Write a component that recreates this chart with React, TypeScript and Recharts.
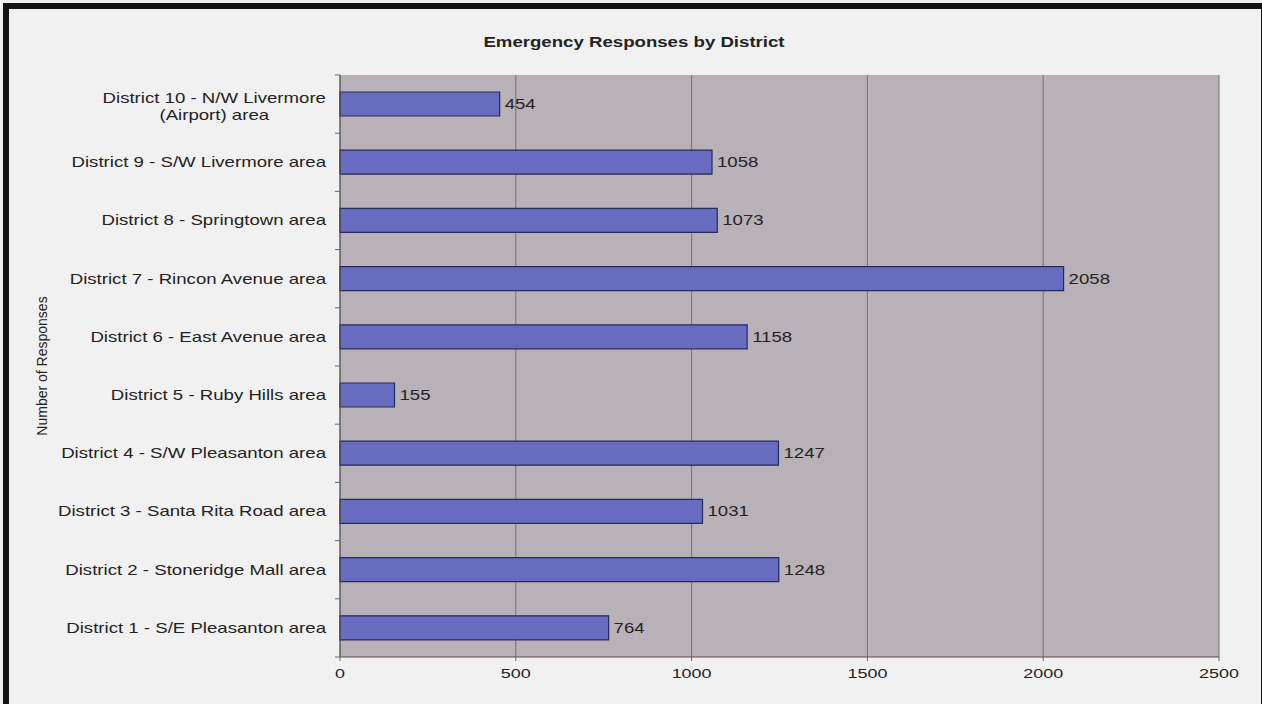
import React from "react";
import { BarChart, Bar, XAxis, YAxis, CartesianGrid, LabelList, Label } from "recharts";

// Districts listed top to bottom as they appear on the category axis
const districts = [
  "District 10 - N/W Livermore\n(Airport) area",
  "District 9 - S/W Livermore area",
  "District 8 - Springtown area",
  "District 7 - Rincon Avenue area",
  "District 6 - East Avenue area",
  "District 5 - Ruby Hills area",
  "District 4 - S/W Pleasanton area",
  "District 3 - Santa Rita Road area",
  "District 2 - Stoneridge Mall area",
  "District 1 - S/E Pleasanton area",
];
const responses = [454, 1058, 1073, 2058, 1158, 155, 1247, 1031, 1248, 764];
const countTicks = [0, 500, 1000, 1500, 2000, 2500];

const data = districts.map((name, i) => ({ name, responses: responses[i] }));

const W = 1262;
const H = 704;
const PLOT_TOP = 75;
const PLOT_BOTTOM = 657;
const PLOT_LEFT = 340;
const PLOT_RIGHT = 1219;
const BAND = (PLOT_BOTTOM - PLOT_TOP) / districts.length;
const SX = 1.33; // text is drawn wide, like the old printout
const FONT = "'Liberation Sans', Arial, sans-serif";
const INK = "#232323";

let measureCtx: CanvasRenderingContext2D | null = null;
function textWidth(s: string, size: number) {
  if (!measureCtx) measureCtx = document.createElement("canvas").getContext("2d");
  if (!measureCtx) return s.length * size * 0.55;
  measureCtx.font = `${size}px ${FONT}`;
  return measureCtx.measureText(s).width;
}

function WideText({ x, y, anchor = "start", size = 14, weight = 400, children }: any) {
  return (
    <text
      transform={`translate(${x},${y}) scale(${SX},1)`}
      textAnchor={anchor}
      dy="0.35em"
      fontSize={size}
      fontWeight={weight}
      fontFamily={FONT}
      fill={INK}
    >
      {children}
    </text>
  );
}

function DistrictTick(props: any) {
  const { y, payload, index } = props;
  const lines = String(payload.value).split("\n");
  const right = PLOT_LEFT - 14;
  const tickYs = [y - BAND / 2];
  if (index === districts.length - 1) tickYs.push(y + BAND / 2);

  let labels;
  if (lines.length === 1) {
    labels = <WideText x={right} y={y} anchor="end">{lines[0]}</WideText>;
  } else {
    const w = Math.max(...lines.map((l) => textWidth(l, 14))) * SX;
    const cx = right - w / 2;
    labels = lines.map((l, i) => (
      <WideText key={i} x={cx} y={y + 2 + (i - (lines.length - 1) / 2) * 17} anchor="middle">
        {l}
      </WideText>
    ));
  }

  return (
    <g>
      {tickYs.map((ty, i) => (
        <line key={i} x1={PLOT_LEFT - 5} x2={PLOT_LEFT} y1={ty} y2={ty} stroke="#666" />
      ))}
      {labels}
    </g>
  );
}

function CountTick(props: any) {
  const { x, payload } = props;
  return <WideText x={x} y={673} anchor="middle" size={13.5}>{payload.value}</WideText>;
}

function ValueLabel(props: any) {
  const { x, y, width, height, value } = props;
  return (
    <WideText x={Number(x) + Number(width) + 5} y={Number(y) + Number(height) / 2} size={14}>
      {value}
    </WideText>
  );
}

export default function App() {
  return (
    <div style={{ position: "relative", width: W, height: H, overflow: "hidden", background: "#f1f1f1" }}>
      <style>{`body{margin:0}`}</style>
      <div
        style={{
          position: "absolute",
          left: 3,
          top: 3,
          width: W + 2,
          height: H + 3,
          border: "6px solid #141414",
          boxSizing: "border-box",
        }}
      />
      <div
        style={{
          position: "absolute",
          left: 3,
          top: 34,
          width: W,
          textAlign: "center",
          fontFamily: FONT,
          fontWeight: 700,
          fontSize: 14,
          lineHeight: "16px",
          color: INK,
          transform: `scale(${SX},1)`,
        }}
      >
        Emergency Responses by District
      </div>
      <div style={{ position: "absolute", left: 0, top: 0 }}>
        <BarChart
          width={W}
          height={H}
          data={data}
          layout="vertical"
          margin={{ top: PLOT_TOP, right: W - PLOT_RIGHT, bottom: H - PLOT_BOTTOM - 40, left: 10 }}
        >
          <CartesianGrid horizontal={false} stroke="#747074" fill="#b9b1b8" fillOpacity={1} />
          <XAxis
            type="number"
            domain={[0, 2500]}
            ticks={countTicks}
            height={40}
            axisLine={{ stroke: "#5e4a52" }}
            tickLine={{ stroke: "#666" }}
            tickSize={4}
            tick={<CountTick />}
          />
          <XAxis
            xAxisId="top"
            orientation="top"
            type="number"
            domain={[0, 2500]}
            height={0}
            tick={false}
            tickLine={false}
            axisLine={{ stroke: "#8c8a8c" }}
          />
          <YAxis
            type="category"
            dataKey="name"
            width={330}
            axisLine={{ stroke: "#555" }}
            tickLine={false}
            interval={0}
            tick={<DistrictTick />}
          >
            <Label
              content={() => (
                <text
                  transform="translate(42,366) rotate(-90)"
                  textAnchor="middle"
                  dy="0.35em"
                  fontSize={14}
                  fontFamily={FONT}
                  fill={INK}
                >
                  Number of Responses
                </text>
              )}
            />
          </YAxis>
          <Bar
            dataKey="responses"
            barSize={24}
            fill="#686cc0"
            stroke="#262a58"
            strokeWidth={1.2}
            isAnimationActive={false}
          >
            <LabelList dataKey="responses" content={<ValueLabel />} />
          </Bar>
        </BarChart>
      </div>
    </div>
  );
}
